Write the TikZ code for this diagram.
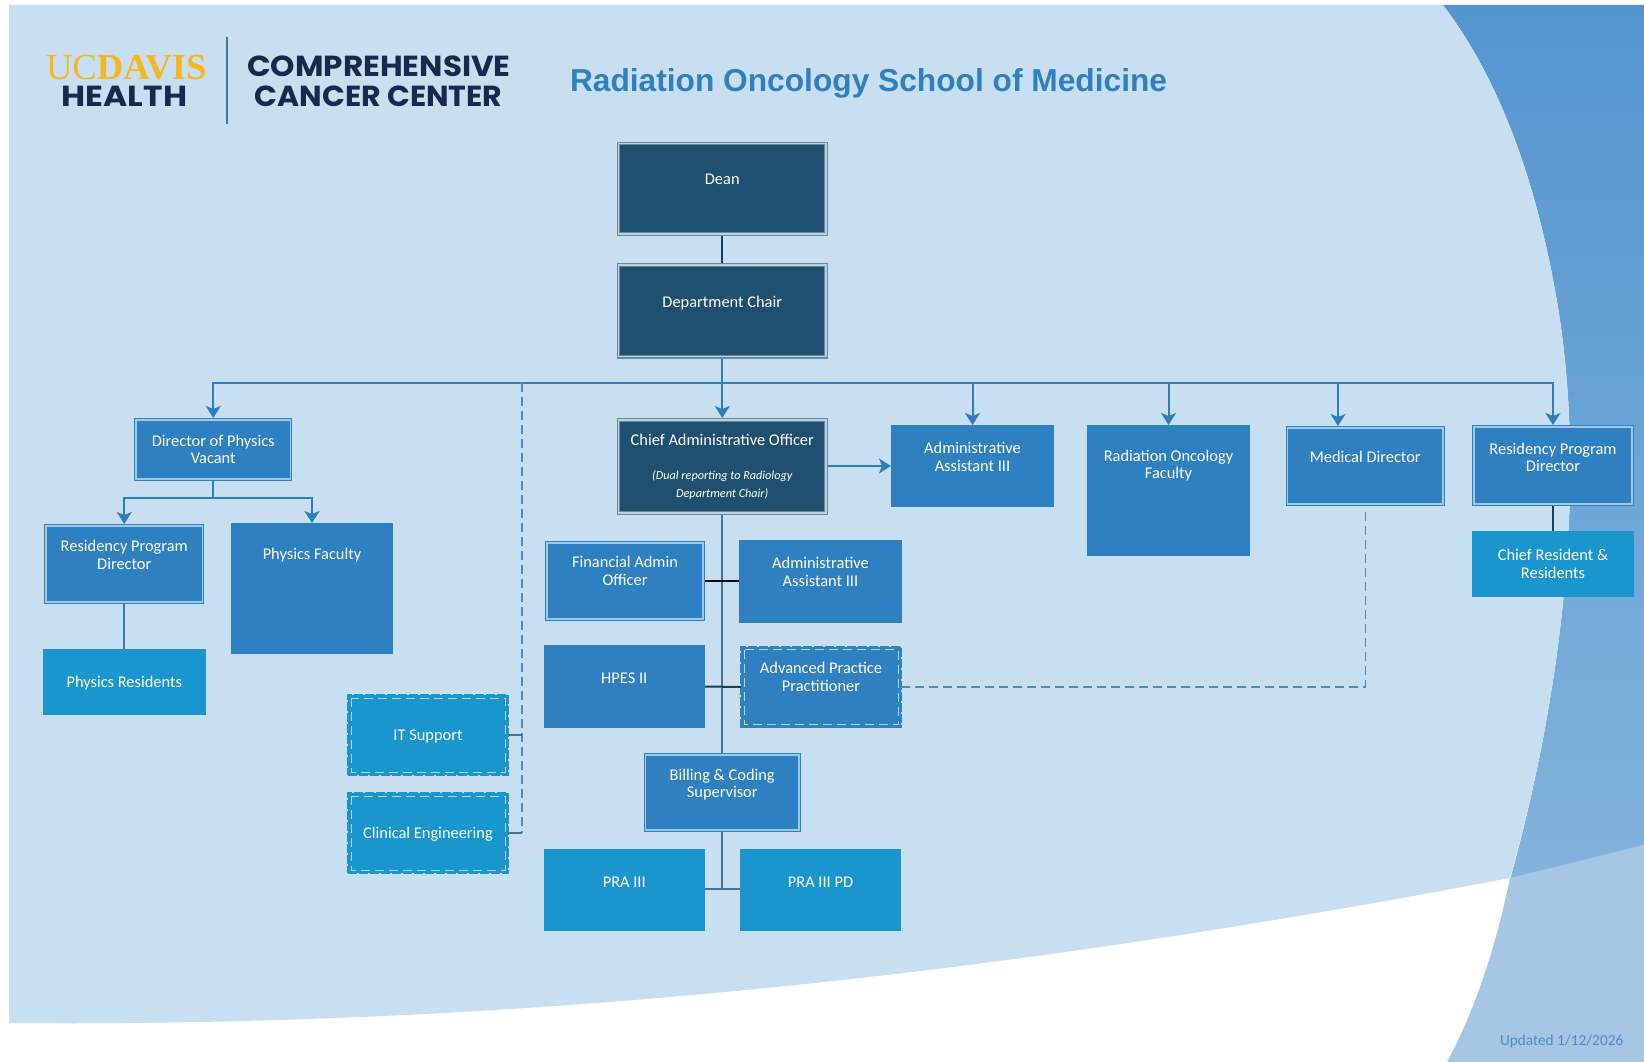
\documentclass[tikz,border=0pt]{standalone}
\usepackage{fontspec}
\usetikzlibrary{arrows.meta,calc}
\setmainfont{Carlito}
\newfontfamily\titlefont{Liberation Sans}
\newfontfamily\logofont{Poppins}
\newfontfamily\logoserif{Liberation Serif}
\definecolor{pagelight}{HTML}{C8DFF2}
\definecolor{sideblue}{HTML}{5495CF}
\definecolor{sideblueb}{HTML}{82B3DC}
\definecolor{lowband}{HTML}{A5C7E4}
\definecolor{midblue}{HTML}{2E80C1}
\definecolor{tealblue}{HTML}{1B95CE}
\definecolor{darkblue}{HTML}{1F5070}
\definecolor{navy}{HTML}{16294F}
\definecolor{gold}{HTML}{F5B71F}
\definecolor{busblue}{HTML}{2F7DBB}
\definecolor{trunk}{HTML}{4B7391}
\definecolor{gap}{HTML}{B5D4EC}
\definecolor{framegap}{HTML}{A0C8E8}
\definecolor{darkedge}{HTML}{6F8899}
\definecolor{updatedblue}{HTML}{4A8CC9}
\definecolor{dashblue}{HTML}{5488B5}
\tikzset{
  boxbase/.style={inner sep=0pt,outer sep=0pt,text=white,font=\fontsize{16.4}{17.5}\selectfont,align=center},
  darkbox/.style={boxbase,fill=darkblue,draw=darkedge,double=gap,line width=1.2pt,double distance=1.5pt,outer sep=2pt},
  framebox/.style={boxbase,fill=midblue,draw=midblue,double=framegap,line width=1pt,double distance=1.5pt,outer sep=2pt},
  plainbox/.style={boxbase,fill=midblue},
  tealbox/.style={boxbase,fill=tealblue},
  dashteal/.style={boxbase,fill=tealblue,draw=tealblue,line width=1.5pt,dash pattern=on 9pt off 2pt},
  dashmid/.style={boxbase,fill=midblue,draw=midblue,line width=1.5pt,dash pattern=on 9pt off 2pt},
  innerdash/.style={draw=gap,line width=1pt,dash pattern=on 9pt off 5pt},
  busline/.style={draw=busblue,line width=2pt},
  arrowline/.style={busline,-{Stealth[length=12pt,width=15pt,inset=3pt]}},
  trunkline/.style={draw=trunk,line width=2pt},
  thintrunk/.style={draw=trunk,line width=1.2pt},
  darkline/.style={draw=darkblue!80!black,line width=2pt},
  blackline/.style={draw=black!85!darkblue,line width=1.2pt},
  dashline/.style={draw=dashblue,line width=1.3pt,dash pattern=on 9pt off 5pt},
  logotext/.style={inner sep=0pt,outer sep=0pt},
}
\newcommand\lifted[2]{\raisebox{\dimexpr#1pt-6.5pt\relax}[0pt][0pt]{\begin{tabular}{@{}c@{}}#2\end{tabular}}}
% style, name, x1, y1, x2, y2, inset, lift, text
\newcommand\obox[9]{\node[#1,minimum width={#5-#3-2*#7},minimum height={#6-#4-2*#7}] (#2) at ({(#3+#5)/2},{(#4+#6)/2}) {\lifted{#8}{#9}};}
\begin{document}
\begin{tikzpicture}[x=1pt,y=-1pt]
\useasboundingbox (0,0) rectangle (1644,1062);
\fill[white] (0,0) rectangle (1644,1062);
% side panels
\shade[top color=sideblue,bottom color=sideblueb] (1443,5) -- (1644,5) -- (1644,845) -- (1510,880)
  .. controls (1560,700) and (1590,480) .. (1555,290) .. controls (1535,180) and (1500,80) .. (1443,5) -- cycle;
\fill[lowband] (1510,878) -- (1644,845) -- (1644,1062) -- (1447,1062) .. controls (1475,1010) and (1495,950) .. (1510,878) -- cycle;
\fill[pagelight] (9,5) -- (1443,5) .. controls (1500,80) and (1535,180) .. (1555,290)
  .. controls (1590,480) and (1560,700) .. (1510,878)
  .. controls (1100,956) and (600,1028) .. (9,1023) -- cycle;
% logo
\node[logotext,anchor=base west,text=gold] (uc) at (46,80) {\logoserif\fontsize{36.7}{36}\selectfont UC\textbf{DAVIS}};
\node[logotext,anchor=base,text=navy] (health) at (124.5,107) {\scalebox{1.135}[1]{\logofont\bfseries\fontsize{29}{29}\selectfont HEALTH}};
\draw[trunk,line width=1.3pt] (227,37) -- (227,124);
\node[logotext,anchor=base,text=navy] (compr) at (379,77) {\scalebox{1.07}[1]{\logofont\bfseries\fontsize{29}{29}\selectfont COMPREHENSIVE}};
\node[logotext,anchor=base,text=navy] (cancer) at (378.5,107) {\scalebox{1.035}[1]{\logofont\bfseries\fontsize{29}{29}\selectfont CANCER CENTER}};
\node[logotext,anchor=west,text=midblue] (title) at (570,83) {\titlefont\bfseries\fontsize{31.7}{32}\selectfont Radiation Oncology School of Medicine};
\node[logotext,anchor=west,text=updatedblue] (updated) at (1500,1041) {\fontsize{15.3}{15}\selectfont Updated 1/12/2026};
% boxes
\obox{darkbox}{dean}{616.5}{141.5}{828}{236}{2}{10}{Dean}
\obox{darkbox}{chair}{616.5}{263}{828}{358.6}{2}{9}{Department Chair}
\obox{framebox}{dirphys}{134}{418}{292.5}{481}{2}{0}{Director of Physics\\Vacant}
\obox{framebox}{resl}{44}{524}{204.5}{604}{2}{9}{Residency Program\\Director}
\obox{plainbox}{physfac}{231}{523}{393}{654}{0}{35}{Physics Faculty}
\obox{tealbox}{physres}{43}{649}{205.5}{715}{0}{0}{Physics Residents}
\obox{darkbox}{cao}{616.5}{418}{828}{515}{2}{0.5}{Chief Administrative Officer\\[16.5pt]{\itshape\fontsize{12.2}{17}\selectfont (Dual reporting to Radiology}\\{\itshape\fontsize{12.2}{17}\selectfont Department Chair)}}
\obox{plainbox}{aa}{891}{425}{1054}{507}{0}{9}{Administrative\\Assistant III}
\obox{plainbox}{radonc}{1087}{425}{1250}{556}{0}{26}{Radiation Oncology\\Faculty}
\obox{framebox}{med}{1285.5}{426}{1445}{506}{2}{9}{Medical Director}
\obox{framebox}{resr}{1472}{425}{1634}{506}{2}{8}{Residency Program\\Director}
\obox{tealbox}{chief}{1472}{531}{1634}{597}{0}{0}{Chief Resident \&\\Residents}
\obox{framebox}{fao}{545}{541}{705}{621}{2}{10}{Financial Admin\\Officer}
\obox{plainbox}{aatwo}{739}{539.5}{902}{622.5}{0}{9}{Administrative\\Assistant III}
\obox{plainbox}{hpes}{543.5}{645}{705}{728}{0}{9}{HPES II}
\obox{dashmid}{app}{741}{646.5}{901}{727.5}{0}{10}{Advanced Practice\\Practitioner}
\obox{dashteal}{itsup}{348}{695}{508}{775}{0}{0}{IT Support}
\obox{dashteal}{clin}{348}{793}{508}{873}{0}{0}{Clinical Engineering}
\obox{framebox}{bill}{643.5}{753}{801}{832}{2}{9}{Billing \& Coding\\Supervisor}
\obox{tealbox}{pra}{543.5}{849}{705}{931}{0}{8}{PRA III}
\obox{tealbox}{prapd}{740}{849}{901}{931}{0}{8}{PRA III PD}
\foreach \n in {app,itsup,clin}{
  \draw[innerdash] ($(\n.north west)+(3,3)$) rectangle ($(\n.south east)+(-3,-3)$);
}
% free ends
\coordinate (bus) at (722.25,383);
\coordinate (medin) at (1338,426);
\coordinate (dashtop) at (522,383);
\coordinate (dashbot) at (522,833);
\coordinate (physbus) at (213.25,498);
\coordinate (prabus) at (722.25,889);
\coordinate (medout) at (1365.25,510);
% connectors
\draw[darkline] (dean.south) -- (chair.north);
\draw[busline] (chair.south) -- (bus);
\draw[arrowline] (bus) -| (dirphys.north);
\draw[arrowline] (bus) -- (cao.north);
\draw[arrowline] (bus) -| (aa.north);
\draw[arrowline] (bus) -| (radonc.north);
\draw[arrowline] (bus) -| (medin);
\draw[arrowline] (bus) -| (resr.north);
\draw[arrowline] (cao.east |- aa.west) -- (aa.west);
\draw[dashline] (dashtop) -- (dashbot);
\draw[thintrunk] (itsup.east) -- (itsup.east -| dashtop);
\draw[thintrunk] (clin.east) -- (dashbot);
\draw[busline] (dirphys.south) -- (physbus);
\draw[arrowline] (physbus) -| (resl.north);
\draw[arrowline] (physbus) -| (physfac.north);
\draw[busline] (resl.south) -- (physres.north);
\draw[darkline] (resr.south) -- (chief.north);
\draw[trunkline] (cao.south) -- (bill.north);
\draw[blackline] (fao.east) -- (aatwo.west);
\draw[darkline] (hpes.east) -- (app.west);
\draw[trunkline] (bill.south) -- (prabus);
\draw[trunkline] (pra.east |- prabus) -- (prapd.west |- prabus);
\draw[dashline] (app.east) -| (medout);
\end{tikzpicture}
\end{document}
